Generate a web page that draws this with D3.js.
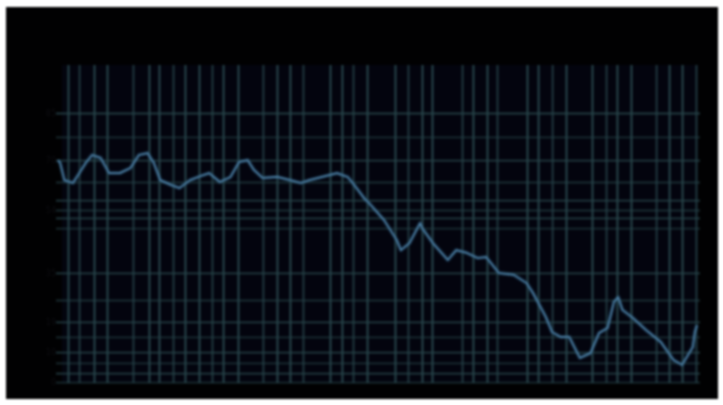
<!DOCTYPE html>
<html>
<head>
<meta charset="utf-8">
<script src="https://cdn.jsdelivr.net/npm/d3@7"></script>
<style>
  html, body { margin: 0; padding: 0; background: #ffffff; }
  svg { display: block; filter: blur(1px); }
</style>
</head>
<body>
<svg id="chart" width="723" height="405"></svg>
<script>
// ---- data ----
const days = [0, 1, 3, 7, 10, 13, 16, 20, 24, 29, 34, 38, 42, 45, 48, 53, 57, 62, 67, 71, 76, 81, 85, 89, 92, 96, 103, 109, 114, 118, 124, 131, 136, 138, 142, 144, 146, 153, 159, 161, 165, 170, 171, 176, 183, 187, 192, 197, 201, 207, 214, 220, 223, 229, 232, 236, 240, 245, 250, 254, 258, 261, 263, 265, 270, 276, 283, 289, 293, 298, 299, 300];
const values = [70.1, 69.2, 63.8, 62.9, 66.0, 69.2, 71.7, 70.8, 66.0, 66.0, 67.6, 71.7, 72.3, 69.2, 63.8, 62.3, 61.3, 63.8, 65.1, 66.0, 63.2, 64.8, 69.5, 70.1, 67.0, 64.5, 64.8, 63.8, 62.9, 63.8, 64.8, 66.0, 64.8, 63.2, 59.7, 57.9, 56.6, 51.3, 45.0, 41.8, 44.0, 50.3, 48.7, 44.0, 38.7, 41.8, 40.9, 39.3, 39.6, 34.6, 34.0, 31.4, 28.3, 20.8, 16.0, 14.5, 14.5, 7.9, 9.4, 15.7, 17.3, 25.5, 27.0, 23.0, 20.4, 16.7, 12.9, 7.2, 5.7, 11.3, 16.0, 18.2];
const xGridDays = [4.7, 9.9, 16.9, 23.0, 35.2, 42.7, 47.4, 54.0, 59.6, 66.2, 72.3, 77.5, 84.5, 96.2, 102.8, 108.9, 115.0, 127.7, 133.3, 138.5, 145.1, 158.2, 164.3, 170.9, 175.6, 189.7, 194.8, 201.4, 206.1, 220.2, 225.4, 232.0, 238.5, 250.7, 257.3, 262.4, 269.0, 280.8, 286.9, 293.0, 299.5];
const yGridValues = [84.9, 77.4, 70.1, 63.2, 57.5, 54.4, 51.9, 48.7, 34.6, 26.1, 19.2, 14.5, 9.7, 6.3, 3.1, 0.3];
const yLabelValues = [84.9, 70.1, 54.4, 34.6, 19.2, 9.7, 0.3];

// ---- layout ----
const frame = { left: 6, top: 7, right: 718, bottom: 399 };
const plot = { left: 62, top: 65, right: 698, bottom: 383 };

const svg = d3.select("#chart");

const x = d3.scaleLinear().domain([0, 300]).range([58, 697]);
const y = d3.scaleLinear().domain([0, 100]).range([plot.bottom, plot.top]);

// outer black frame
svg.append("rect")
  .attr("x", frame.left).attr("y", frame.top)
  .attr("width", frame.right - frame.left).attr("height", frame.bottom - frame.top)
  .attr("fill", "#010102");

// plot background
svg.append("rect")
  .attr("x", plot.left).attr("y", plot.top)
  .attr("width", plot.right - plot.left).attr("height", plot.bottom - plot.top)
  .attr("fill", "#03040e");

// horizontal grid
const gy = svg.append("g")
  .attr("transform", `translate(${plot.left - 6},0)`)
  .call(d3.axisRight(y).tickValues(yGridValues).tickSize(plot.right - plot.left + 8).tickFormat(""));
gy.select(".domain").remove();
gy.selectAll(".tick line")
  .attr("stroke", "#21393f")
  .attr("stroke-width", 1.8)
  .attr("stroke-opacity", (d, i) => (i % 2 === 0 ? 1 : 0.75));

// vertical grid
const gx = svg.append("g")
  .attr("transform", `translate(0,${plot.bottom})`)
  .call(d3.axisTop(x).tickValues(xGridDays).tickSize(plot.bottom - plot.top).tickFormat(""));
gx.select(".domain").remove();
gx.selectAll(".tick line")
  .attr("stroke", "#27444a")
  .attr("stroke-width", 2)
  .attr("stroke-opacity", (d, i) => (i % 3 === 1 ? 0.8 : 1));

// faint y labels
svg.append("g")
  .selectAll("text")
  .data(yLabelValues)
  .join("text")
  .attr("x", plot.left - 6)
  .attr("y", d => y(d) + 3)
  .attr("text-anchor", "end")
  .attr("font-family", "DejaVu Sans, sans-serif")
  .attr("font-size", 8)
  .attr("fill", "#0e0e12")
  .text(d => d3.format(".0f")(d));

// line
const pts = days.map((d, i) => [d, values[i]]);
const line = d3.line().x(d => x(d[0])).y(d => y(d[1]));

svg.append("path")
  .datum(pts)
  .attr("d", line)
  .attr("fill", "none")
  .attr("stroke", "#2c5878")
  .attr("stroke-width", 4.5)
  .attr("stroke-opacity", 0.35)
  .attr("stroke-linejoin", "round");

svg.append("path")
  .datum(pts)
  .attr("d", line)
  .attr("fill", "none")
  .attr("stroke", "#4c7ea3")
  .attr("stroke-width", 1.7)
  .attr("stroke-linejoin", "round");
</script>
</body>
</html>
